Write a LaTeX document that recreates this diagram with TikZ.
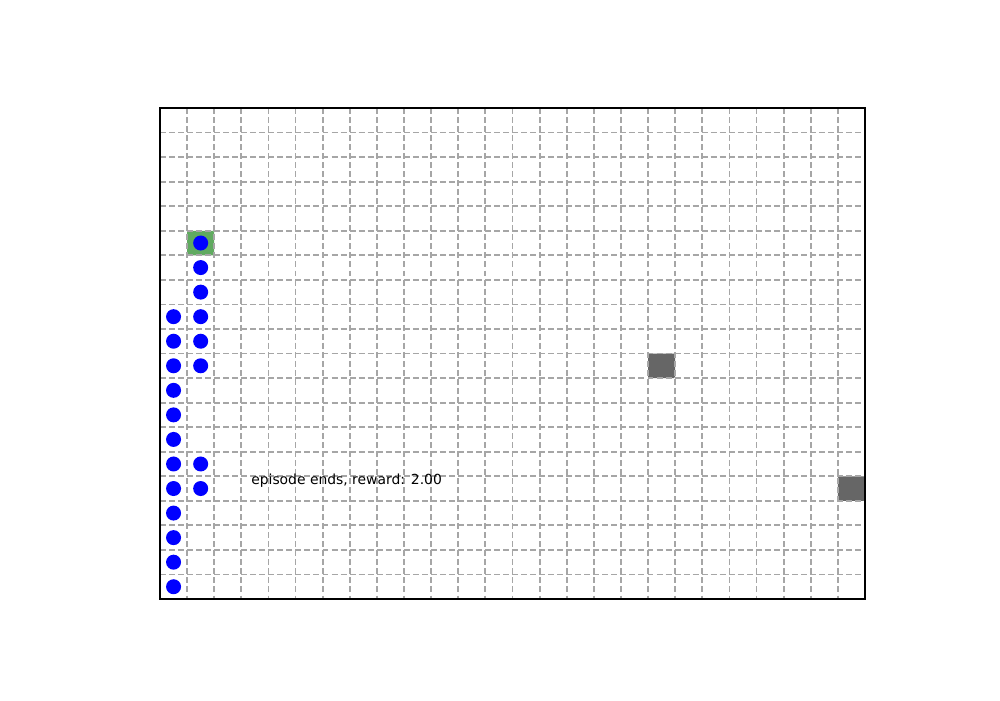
\documentclass[tikz,border=0pt]{standalone}
\usepackage{fontspec}
\setmainfont{DejaVu Sans}
\definecolor{gridgray}{RGB}{166,166,166}
\definecolor{goalgreen}{RGB}{96,170,96}
\definecolor{wallgray}{RGB}{102,102,102}
\tikzset{
  gridline/.style={gridgray, line width=1.3pt, dash pattern=on 4.3pt off 2.2pt},
  agentdot/.style={fill=blue},
}
\begin{document}
\begin{tikzpicture}[x=19.523pt, y=-17.676pt]
    % page size, same margins as the plot
    \useasboundingbox (-5.9008,-4.3992) rectangle (30.979,24.114);

    % Goal cell and walls
    \fill[goalgreen, rounded corners=1pt] (1,5) rectangle (2,6);
    \fill[wallgray, rounded corners=1pt] (18,10) rectangle (19,11);
    \fill[wallgray, rounded corners=1pt] (25,15) rectangle (26,16);

    % Dashed grid
    \foreach \i in {1,...,25}
        \draw[gridline] (\i,0) -- (\i,20);
    \foreach \j in {1,...,19}
        \draw[gridline] (0,\j) -- (26,\j);

    % Frame of the board
    \draw[black, line width=1.1pt] (0,0) rectangle (26,20);

    % Visited cells
    \foreach \j in {5,6,7,8,9,10,14,15}
        \fill[agentdot] (1.5,\j+0.5) circle (5.4pt);
    \foreach \j in {8,...,19}
        \fill[agentdot] (0.5,\j+0.5) circle (5.4pt);

    % Message
    \node[anchor=west, inner sep=0pt, font=\fontsize{10pt}{12pt}\selectfont] (msg) at (3.356,15.19) {episode ends, reward: 2.00};

\end{tikzpicture}
\end{document}
